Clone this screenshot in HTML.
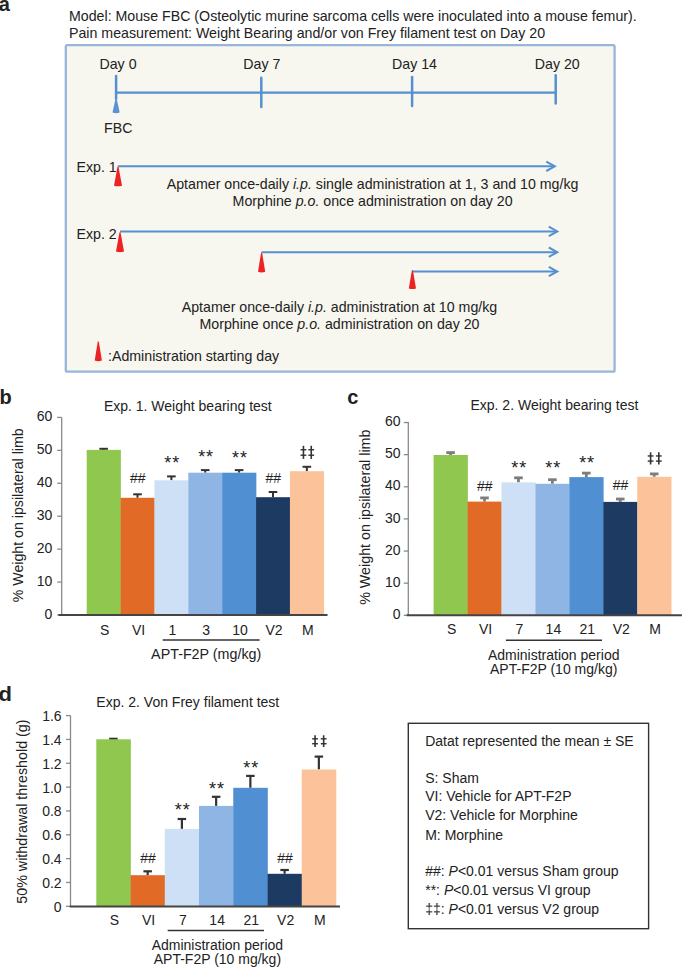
<!DOCTYPE html>
<html><head><meta charset="utf-8"><style>
html,body{margin:0;padding:0;background:#fff;}
svg{display:block;font-family:"Liberation Sans", sans-serif;fill:#222;}
</style></head><body>
<svg width="685" height="970" viewBox="0 0 685 970" fill="#222">
<text x="-1.3" y="10.6" font-size="20" font-weight="bold">a</text>
<text x="69" y="21" font-size="14.2" text-anchor="start" >Model: Mouse FBC (Osteolytic murine sarcoma cells were inoculated into a mouse femur).</text>
<text x="69" y="38" font-size="14.2" text-anchor="start" >Pain measurement: Weight Bearing and/or von Frey filament test on Day 20</text>
<rect x="65.8" y="45.2" width="548.8" height="326.5" rx="1.5" fill="#f7f6ef" stroke="#98b6da" stroke-width="2.3"/>
<text x="118" y="69" font-size="14.2" text-anchor="middle" >Day 0</text>
<line x1="116.1" y1="75.9" x2="116.1" y2="98.8" stroke="#5590d0" stroke-width="2.5" stroke-linecap="round"/>
<text x="261.8" y="69" font-size="14.2" text-anchor="middle" >Day 7</text>
<line x1="261.3" y1="77.8" x2="261.3" y2="106.89999999999999" stroke="#5590d0" stroke-width="2.5" stroke-linecap="round"/>
<text x="414.5" y="69" font-size="14.2" text-anchor="middle" >Day 14</text>
<line x1="412.1" y1="76.9" x2="412.1" y2="106.0" stroke="#5590d0" stroke-width="2.5" stroke-linecap="round"/>
<text x="557.3" y="69" font-size="14.2" text-anchor="middle" >Day 20</text>
<line x1="555.7" y1="75.3" x2="555.7" y2="103.39999999999999" stroke="#5590d0" stroke-width="2.5" stroke-linecap="round"/>
<line x1="116" y1="92.6" x2="556" y2="92.6" stroke="#5590d0" stroke-width="2.4"/>
<path d="M116.1 96 L112.5 112.6 Q116.1 114 119.7 112.6 Z" fill="#5b93d3"/>
<text x="118.3" y="133.2" font-size="14.2" text-anchor="middle" >FBC</text>
<text x="76.5" y="171.7" font-size="14.2" text-anchor="start" >Exp. 1</text>
<line x1="117.8" y1="166.3" x2="553.8" y2="166.3" stroke="#5590d0" stroke-width="2"/>
<path d="M546.3 161.60000000000002 L554.8 166.3 L546.3 171.0" fill="none" stroke="#5590d0" stroke-width="2"/>
<path d="M117.50 166.8 L114.00 185.70 Q118.0 186.90 122.00 185.70 L118.50 166.8 Z" fill="#ec2224"/>
<text x="372.6" y="189.2" font-size="14.2" text-anchor="middle" >Aptamer once-daily <tspan font-style="italic">i.p.</tspan> single administration at 1, 3 and 10 mg/kg</text>
<text x="372.6" y="206.3" font-size="14.2" text-anchor="middle" >Morphine <tspan font-style="italic">p.o.</tspan> once administration on day 20</text>
<text x="76.5" y="239.3" font-size="14.2" text-anchor="start" >Exp. 2</text>
<line x1="120" y1="231.4" x2="556.3" y2="231.4" stroke="#5590d0" stroke-width="2"/>
<path d="M548.8 226.70000000000002 L557.3 231.4 L548.8 236.1" fill="none" stroke="#5590d0" stroke-width="2"/>
<line x1="261.5" y1="252.2" x2="556.3" y2="252.2" stroke="#5590d0" stroke-width="2"/>
<path d="M548.8 247.5 L557.3 252.2 L548.8 256.9" fill="none" stroke="#5590d0" stroke-width="2"/>
<line x1="412.3" y1="271.5" x2="556.3" y2="271.5" stroke="#5590d0" stroke-width="2"/>
<path d="M548.8 266.8 L557.3 271.5 L548.8 276.2" fill="none" stroke="#5590d0" stroke-width="2"/>
<path d="M119.50 232.2 L116.00 251.60 Q120.0 252.80 124.00 251.60 L120.50 232.2 Z" fill="#ec2224"/>
<path d="M261.10 252.7 L258.00 271.80 Q261.6 273.00 265.20 271.80 L262.10 252.7 Z" fill="#ec2224"/>
<path d="M411.90 270.3 L408.80 288.50 Q412.4 289.70 416.00 288.50 L412.90 270.3 Z" fill="#ec2224"/>
<text x="339.5" y="311.8" font-size="14.2" text-anchor="middle" >Aptamer once-daily <tspan font-style="italic">i.p.</tspan> administration at 10 mg/kg</text>
<text x="339.5" y="329.3" font-size="14.2" text-anchor="middle" >Morphine once <tspan font-style="italic">p.o.</tspan> administration on day 20</text>
<path d="M97.80 341.6 L94.70 360.60 Q98.3 361.80 101.90 360.60 L98.80 341.6 Z" fill="#ec2224"/>
<text x="108" y="361" font-size="14.2" text-anchor="start" >:Administration starting day</text>
<text x="-0.5" y="403.5" font-size="20" font-weight="bold">b</text>
<text x="187.8" y="410.7" font-size="14" text-anchor="middle" >Exp. 1. Weight bearing test</text>
<line x1="61.7" y1="417.4" x2="61.7" y2="615" stroke="#8a8a8a" stroke-width="1.3"/>
<line x1="57.2" y1="615.00" x2="61.7" y2="615.00" stroke="#8a8a8a" stroke-width="1.3"/>
<text x="52.3" y="618.60" font-size="14" text-anchor="end" >0</text>
<line x1="57.2" y1="582.07" x2="61.7" y2="582.07" stroke="#8a8a8a" stroke-width="1.3"/>
<text x="52.3" y="585.67" font-size="14" text-anchor="end" >10</text>
<line x1="57.2" y1="549.14" x2="61.7" y2="549.14" stroke="#8a8a8a" stroke-width="1.3"/>
<text x="52.3" y="552.74" font-size="14" text-anchor="end" >20</text>
<line x1="57.2" y1="516.21" x2="61.7" y2="516.21" stroke="#8a8a8a" stroke-width="1.3"/>
<text x="52.3" y="519.81" font-size="14" text-anchor="end" >30</text>
<line x1="57.2" y1="483.28" x2="61.7" y2="483.28" stroke="#8a8a8a" stroke-width="1.3"/>
<text x="52.3" y="486.88" font-size="14" text-anchor="end" >40</text>
<line x1="57.2" y1="450.35" x2="61.7" y2="450.35" stroke="#8a8a8a" stroke-width="1.3"/>
<text x="52.3" y="453.95" font-size="14" text-anchor="end" >50</text>
<line x1="57.2" y1="417.42" x2="61.7" y2="417.42" stroke="#8a8a8a" stroke-width="1.3"/>
<text x="52.3" y="421.02" font-size="14" text-anchor="end" >60</text>
<line x1="103.64" y1="448.80" x2="103.64" y2="449.90" stroke="#333" stroke-width="2"/>
<line x1="99.34" y1="448.80" x2="107.94" y2="448.80" stroke="#333" stroke-width="2"/>
<rect x="86.70" y="449.90" width="34.17" height="165.10" fill="#8fc74f"/>
<text x="104.64" y="634.5" font-size="14" text-anchor="middle" >S</text>
<line x1="137.50" y1="494.30" x2="137.50" y2="497.80" stroke="#333" stroke-width="2"/>
<line x1="133.20" y1="494.30" x2="141.81" y2="494.30" stroke="#333" stroke-width="2"/>
<rect x="120.57" y="497.80" width="34.17" height="117.20" fill="#e06a26"/>
<text x="137.81" y="483.30" font-size="14" text-anchor="middle" >##</text>
<text x="138.50" y="634.5" font-size="14" text-anchor="middle" >VI</text>
<line x1="171.38" y1="476.40" x2="171.38" y2="480.30" stroke="#333" stroke-width="2"/>
<line x1="167.07" y1="476.40" x2="175.68" y2="476.40" stroke="#333" stroke-width="2"/>
<rect x="154.44" y="480.30" width="34.17" height="134.70" fill="#cde0f5"/>
<text x="172.18" y="469.40" font-size="18" text-anchor="middle" letter-spacing="0.9">**</text>
<text x="172.38" y="634.5" font-size="14" text-anchor="middle" >1</text>
<line x1="205.25" y1="470.10" x2="205.25" y2="472.70" stroke="#333" stroke-width="2"/>
<line x1="200.94" y1="470.10" x2="209.55" y2="470.10" stroke="#333" stroke-width="2"/>
<rect x="188.31" y="472.70" width="34.17" height="142.30" fill="#8fb5e4"/>
<text x="206.05" y="462.90" font-size="18" text-anchor="middle" letter-spacing="0.9">**</text>
<text x="206.25" y="634.5" font-size="14" text-anchor="middle" >3</text>
<line x1="239.12" y1="470.10" x2="239.12" y2="472.70" stroke="#333" stroke-width="2"/>
<line x1="234.81" y1="470.10" x2="243.42" y2="470.10" stroke="#333" stroke-width="2"/>
<rect x="222.18" y="472.70" width="34.17" height="142.30" fill="#4f8fd2"/>
<text x="239.92" y="463.50" font-size="18" text-anchor="middle" letter-spacing="0.9">**</text>
<text x="240.12" y="634.5" font-size="14" text-anchor="middle" >10</text>
<line x1="272.99" y1="492.00" x2="272.99" y2="497.20" stroke="#333" stroke-width="2"/>
<line x1="268.69" y1="492.00" x2="277.29" y2="492.00" stroke="#333" stroke-width="2"/>
<rect x="256.05" y="497.20" width="34.17" height="117.80" fill="#1d3a63"/>
<text x="273.29" y="483.30" font-size="14" text-anchor="middle" >##</text>
<text x="273.99" y="634.5" font-size="14" text-anchor="middle" >V2</text>
<line x1="306.85" y1="466.80" x2="306.85" y2="471.20" stroke="#333" stroke-width="2"/>
<line x1="302.55" y1="466.80" x2="311.15" y2="466.80" stroke="#333" stroke-width="2"/>
<rect x="289.92" y="471.20" width="34.17" height="143.80" fill="#fcc39a"/>
<line x1="303.45" y1="445.80" x2="303.45" y2="458.90" stroke="#333" stroke-width="1.6"/>
<line x1="300.56" y1="449.73" x2="306.35" y2="449.73" stroke="#333" stroke-width="1.4"/>
<line x1="300.56" y1="455.23" x2="306.35" y2="455.23" stroke="#333" stroke-width="1.4"/>
<line x1="311.25" y1="445.80" x2="311.25" y2="458.90" stroke="#333" stroke-width="1.6"/>
<line x1="308.35" y1="449.73" x2="314.15" y2="449.73" stroke="#333" stroke-width="1.4"/>
<line x1="308.35" y1="455.23" x2="314.15" y2="455.23" stroke="#333" stroke-width="1.4"/>
<text x="307.85" y="634.5" font-size="14" text-anchor="middle" >M</text>
<line x1="58.5" y1="615" x2="327.5" y2="615" stroke="#444" stroke-width="2"/>
<line x1="162.7" y1="640" x2="259.6" y2="640" stroke="#333" stroke-width="1.4"/>
<text x="206.2" y="658.6" font-size="14.3" text-anchor="middle" >APT-F2P (mg/kg)</text>
<text transform="translate(22.8,515.3) rotate(-90)" font-size="14.2" text-anchor="middle">% Weight on ipsilateral limb</text>
<text x="347.3" y="404.2" font-size="20" font-weight="bold">c</text>
<text x="554.4" y="410.4" font-size="14" text-anchor="middle" >Exp. 2. Weight bearing test</text>
<line x1="408.3" y1="422" x2="408.3" y2="615.3" stroke="#8a8a8a" stroke-width="1.3"/>
<line x1="403.8" y1="615.30" x2="408.3" y2="615.30" stroke="#8a8a8a" stroke-width="1.3"/>
<text x="400.5" y="618.90" font-size="14" text-anchor="end" >0</text>
<line x1="403.8" y1="583.17" x2="408.3" y2="583.17" stroke="#8a8a8a" stroke-width="1.3"/>
<text x="400.5" y="586.77" font-size="14" text-anchor="end" >10</text>
<line x1="403.8" y1="551.04" x2="408.3" y2="551.04" stroke="#8a8a8a" stroke-width="1.3"/>
<text x="400.5" y="554.64" font-size="14" text-anchor="end" >20</text>
<line x1="403.8" y1="518.91" x2="408.3" y2="518.91" stroke="#8a8a8a" stroke-width="1.3"/>
<text x="400.5" y="522.51" font-size="14" text-anchor="end" >30</text>
<line x1="403.8" y1="486.78" x2="408.3" y2="486.78" stroke="#8a8a8a" stroke-width="1.3"/>
<text x="400.5" y="490.38" font-size="14" text-anchor="end" >40</text>
<line x1="403.8" y1="454.65" x2="408.3" y2="454.65" stroke="#8a8a8a" stroke-width="1.3"/>
<text x="400.5" y="458.25" font-size="14" text-anchor="end" >50</text>
<line x1="403.8" y1="422.52" x2="408.3" y2="422.52" stroke="#8a8a8a" stroke-width="1.3"/>
<text x="400.5" y="426.12" font-size="14" text-anchor="end" >60</text>
<line x1="450.57" y1="452.60" x2="450.57" y2="455.00" stroke="#7d7d7d" stroke-width="2.8"/>
<line x1="446.27" y1="452.60" x2="454.87" y2="452.60" stroke="#7d7d7d" stroke-width="2.8"/>
<rect x="433.60" y="455.00" width="34.24" height="160.30" fill="#8fc74f"/>
<text x="451.57" y="634" font-size="14" text-anchor="middle" >S</text>
<line x1="484.51" y1="497.90" x2="484.51" y2="501.60" stroke="#7d7d7d" stroke-width="2.8"/>
<line x1="480.21" y1="497.90" x2="488.81" y2="497.90" stroke="#7d7d7d" stroke-width="2.8"/>
<rect x="467.54" y="501.60" width="34.24" height="113.70" fill="#e06a26"/>
<text x="484.81" y="491.00" font-size="14" text-anchor="middle" >##</text>
<text x="485.51" y="634" font-size="14" text-anchor="middle" >VI</text>
<line x1="518.45" y1="477.80" x2="518.45" y2="482.40" stroke="#7d7d7d" stroke-width="2.8"/>
<line x1="514.15" y1="477.80" x2="522.75" y2="477.80" stroke="#7d7d7d" stroke-width="2.8"/>
<rect x="501.48" y="482.40" width="34.24" height="132.90" fill="#cde0f5"/>
<text x="519.25" y="473.50" font-size="18" text-anchor="middle" letter-spacing="0.9">**</text>
<text x="519.45" y="634" font-size="14" text-anchor="middle" >7</text>
<line x1="552.39" y1="479.70" x2="552.39" y2="483.80" stroke="#7d7d7d" stroke-width="2.8"/>
<line x1="548.09" y1="479.70" x2="556.69" y2="479.70" stroke="#7d7d7d" stroke-width="2.8"/>
<rect x="535.42" y="483.80" width="34.24" height="131.50" fill="#8fb5e4"/>
<text x="553.19" y="474.00" font-size="18" text-anchor="middle" letter-spacing="0.9">**</text>
<text x="553.39" y="634" font-size="14" text-anchor="middle" >14</text>
<line x1="586.33" y1="473.10" x2="586.33" y2="477.10" stroke="#7d7d7d" stroke-width="2.8"/>
<line x1="582.03" y1="473.10" x2="590.63" y2="473.10" stroke="#7d7d7d" stroke-width="2.8"/>
<rect x="569.36" y="477.10" width="34.24" height="138.20" fill="#4f8fd2"/>
<text x="587.13" y="469.40" font-size="18" text-anchor="middle" letter-spacing="0.9">**</text>
<text x="587.33" y="634" font-size="14" text-anchor="middle" >21</text>
<line x1="620.27" y1="499.00" x2="620.27" y2="501.90" stroke="#7d7d7d" stroke-width="2.8"/>
<line x1="615.97" y1="499.00" x2="624.57" y2="499.00" stroke="#7d7d7d" stroke-width="2.8"/>
<rect x="603.30" y="501.90" width="34.24" height="113.40" fill="#1d3a63"/>
<text x="620.57" y="490.30" font-size="14" text-anchor="middle" >##</text>
<text x="621.27" y="634" font-size="14" text-anchor="middle" >V2</text>
<line x1="654.21" y1="473.90" x2="654.21" y2="476.80" stroke="#7d7d7d" stroke-width="2.8"/>
<line x1="649.91" y1="473.90" x2="658.51" y2="473.90" stroke="#7d7d7d" stroke-width="2.8"/>
<rect x="637.24" y="476.80" width="34.24" height="138.50" fill="#fcc39a"/>
<line x1="650.61" y1="452.30" x2="650.61" y2="464.50" stroke="#333" stroke-width="1.6"/>
<line x1="647.71" y1="455.96" x2="653.51" y2="455.96" stroke="#333" stroke-width="1.4"/>
<line x1="647.71" y1="461.08" x2="653.51" y2="461.08" stroke="#333" stroke-width="1.4"/>
<line x1="658.81" y1="452.30" x2="658.81" y2="464.50" stroke="#333" stroke-width="1.6"/>
<line x1="655.91" y1="455.96" x2="661.71" y2="455.96" stroke="#333" stroke-width="1.4"/>
<line x1="655.91" y1="461.08" x2="661.71" y2="461.08" stroke="#333" stroke-width="1.4"/>
<text x="655.21" y="634" font-size="14" text-anchor="middle" >M</text>
<line x1="406.7" y1="615.3" x2="681.9" y2="615.3" stroke="#444" stroke-width="2"/>
<line x1="505.9" y1="640.2" x2="602" y2="640.2" stroke="#333" stroke-width="1.4"/>
<text x="553.7" y="659.5" font-size="14" text-anchor="middle" >Administration period</text>
<text x="553.7" y="674" font-size="14" text-anchor="middle" >APT-F2P (10 mg/kg)</text>
<text transform="translate(370.2,517.2) rotate(-90)" font-size="14.3" text-anchor="middle">% Weight on ipsilateral limb</text>
<text x="-1.3" y="701.4" font-size="20" font-weight="bold" transform="translate(-0.13,0) scale(1.1,1)">d</text>
<text x="187.8" y="707" font-size="14" text-anchor="middle" >Exp. 2. Von Frey filament test</text>
<line x1="70.5" y1="715.5" x2="70.5" y2="906.6" stroke="#8a8a8a" stroke-width="1.3"/>
<line x1="66.0" y1="906.30" x2="70.5" y2="906.30" stroke="#8a8a8a" stroke-width="1.3"/>
<text x="61.6" y="911.80" font-size="14" text-anchor="end" >0</text>
<line x1="66.0" y1="882.46" x2="70.5" y2="882.46" stroke="#8a8a8a" stroke-width="1.3"/>
<text x="61.6" y="887.96" font-size="14" text-anchor="end" >0.2</text>
<line x1="66.0" y1="858.62" x2="70.5" y2="858.62" stroke="#8a8a8a" stroke-width="1.3"/>
<text x="61.6" y="864.12" font-size="14" text-anchor="end" >0.4</text>
<line x1="66.0" y1="834.79" x2="70.5" y2="834.79" stroke="#8a8a8a" stroke-width="1.3"/>
<text x="61.6" y="840.29" font-size="14" text-anchor="end" >0.6</text>
<line x1="66.0" y1="810.95" x2="70.5" y2="810.95" stroke="#8a8a8a" stroke-width="1.3"/>
<text x="61.6" y="816.45" font-size="14" text-anchor="end" >0.8</text>
<line x1="66.0" y1="787.11" x2="70.5" y2="787.11" stroke="#8a8a8a" stroke-width="1.3"/>
<text x="61.6" y="792.61" font-size="14" text-anchor="end" >1.0</text>
<line x1="66.0" y1="763.27" x2="70.5" y2="763.27" stroke="#8a8a8a" stroke-width="1.3"/>
<text x="61.6" y="768.77" font-size="14" text-anchor="end" >1.2</text>
<line x1="66.0" y1="739.43" x2="70.5" y2="739.43" stroke="#8a8a8a" stroke-width="1.3"/>
<text x="61.6" y="744.93" font-size="14" text-anchor="end" >1.4</text>
<line x1="66.0" y1="715.60" x2="70.5" y2="715.60" stroke="#8a8a8a" stroke-width="1.3"/>
<text x="61.6" y="721.10" font-size="14" text-anchor="end" >1.6</text>
<line x1="113.42" y1="738.80" x2="113.42" y2="739.30" stroke="#333" stroke-width="2.2"/>
<line x1="109.17" y1="738.80" x2="117.67" y2="738.80" stroke="#333" stroke-width="2.2"/>
<rect x="96.30" y="739.30" width="34.54" height="167.30" fill="#8fc74f"/>
<text x="114.42" y="925" font-size="14" text-anchor="middle" >S</text>
<line x1="147.66" y1="871.30" x2="147.66" y2="875.20" stroke="#333" stroke-width="2.2"/>
<line x1="143.41" y1="871.30" x2="151.91" y2="871.30" stroke="#333" stroke-width="2.2"/>
<rect x="130.54" y="875.20" width="34.54" height="31.40" fill="#e06a26"/>
<text x="147.96" y="862.50" font-size="14" text-anchor="middle" >##</text>
<text x="148.66" y="925" font-size="14" text-anchor="middle" >VI</text>
<line x1="181.90" y1="819.00" x2="181.90" y2="828.90" stroke="#333" stroke-width="2.2"/>
<line x1="177.65" y1="819.00" x2="186.15" y2="819.00" stroke="#333" stroke-width="2.2"/>
<rect x="164.78" y="828.90" width="34.54" height="77.70" fill="#cde0f5"/>
<text x="182.70" y="816.20" font-size="18" text-anchor="middle" letter-spacing="0.9">**</text>
<text x="182.90" y="925" font-size="14" text-anchor="middle" >7</text>
<line x1="216.14" y1="796.80" x2="216.14" y2="805.90" stroke="#333" stroke-width="2.2"/>
<line x1="211.89" y1="796.80" x2="220.39" y2="796.80" stroke="#333" stroke-width="2.2"/>
<rect x="199.02" y="805.90" width="34.54" height="100.70" fill="#8fb5e4"/>
<text x="216.94" y="794.60" font-size="18" text-anchor="middle" letter-spacing="0.9">**</text>
<text x="217.14" y="925" font-size="14" text-anchor="middle" >14</text>
<line x1="250.38" y1="775.90" x2="250.38" y2="787.80" stroke="#333" stroke-width="2.2"/>
<line x1="246.13" y1="775.90" x2="254.63" y2="775.90" stroke="#333" stroke-width="2.2"/>
<rect x="233.26" y="787.80" width="34.54" height="118.80" fill="#4f8fd2"/>
<text x="251.18" y="774.40" font-size="18" text-anchor="middle" letter-spacing="0.9">**</text>
<text x="251.38" y="925" font-size="14" text-anchor="middle" >21</text>
<line x1="284.62" y1="870.00" x2="284.62" y2="873.80" stroke="#333" stroke-width="2.2"/>
<line x1="280.37" y1="870.00" x2="288.87" y2="870.00" stroke="#333" stroke-width="2.2"/>
<rect x="267.50" y="873.80" width="34.54" height="32.80" fill="#1d3a63"/>
<text x="284.92" y="862.50" font-size="14" text-anchor="middle" >##</text>
<text x="285.62" y="925" font-size="14" text-anchor="middle" >V2</text>
<line x1="318.86" y1="756.60" x2="318.86" y2="769.50" stroke="#333" stroke-width="2.2"/>
<line x1="314.61" y1="756.60" x2="323.11" y2="756.60" stroke="#333" stroke-width="2.2"/>
<rect x="301.74" y="769.50" width="34.54" height="137.10" fill="#fcc39a"/>
<line x1="315.06" y1="735.30" x2="315.06" y2="747.00" stroke="#333" stroke-width="1.6"/>
<line x1="312.16" y1="738.81" x2="317.96" y2="738.81" stroke="#333" stroke-width="1.4"/>
<line x1="312.16" y1="743.72" x2="317.96" y2="743.72" stroke="#333" stroke-width="1.4"/>
<line x1="323.66" y1="735.30" x2="323.66" y2="747.00" stroke="#333" stroke-width="1.6"/>
<line x1="320.76" y1="738.81" x2="326.56" y2="738.81" stroke="#333" stroke-width="1.4"/>
<line x1="320.76" y1="743.72" x2="326.56" y2="743.72" stroke="#333" stroke-width="1.4"/>
<text x="319.86" y="925" font-size="14" text-anchor="middle" >M</text>
<line x1="69.7" y1="906.6" x2="340" y2="906.6" stroke="#444" stroke-width="2"/>
<line x1="167.7" y1="930.5" x2="264" y2="930.5" stroke="#333" stroke-width="1.4"/>
<text x="217.4" y="949.7" font-size="14" text-anchor="middle" >Administration period</text>
<text x="217.4" y="963.7" font-size="14" text-anchor="middle" >APT-F2P (10 mg/kg)</text>
<text transform="translate(27.3,811.6) rotate(-90)" font-size="14.3" text-anchor="middle">50% withdrawal threshold (g)</text>
<rect x="408.3" y="723.3" width="240.3" height="205.4" fill="none" stroke="#333" stroke-width="1.4"/>
<text x="425.2" y="746.1" font-size="14" text-anchor="start" >Datat represented the mean ± SE</text>
<text x="425.2" y="782.6" font-size="14" text-anchor="start" >S: Sham</text>
<text x="425.2" y="801.1" font-size="14" text-anchor="start" >VI: Vehicle for APT-F2P</text>
<text x="425.2" y="820.1" font-size="14" text-anchor="start" >V2: Vehicle for Morphine</text>
<text x="425.2" y="839.5" font-size="14" text-anchor="start" >M: Morphine</text>
<text x="425.2" y="876.3" font-size="14" text-anchor="start" >##: <tspan font-style="italic">P</tspan>&lt;0.01 versus Sham group</text>
<text x="425.2" y="895.3" font-size="14" text-anchor="start" >**: <tspan font-style="italic">P</tspan>&lt;0.01 versus VI group</text>
<text x="425.2" y="913.5" font-size="14" text-anchor="start" >‡‡: <tspan font-style="italic">P</tspan>&lt;0.01 versus V2 group</text>
</svg></body></html>
